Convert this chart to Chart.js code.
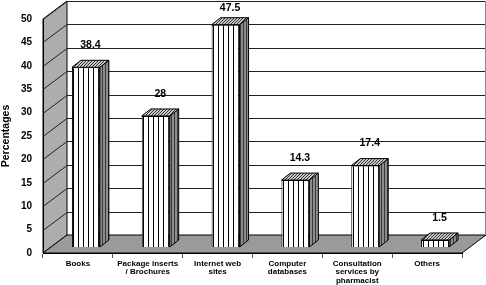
<!DOCTYPE html>
<html>
<head>
<meta charset="utf-8">
<script src="https://cdn.jsdelivr.net/npm/chart.js@4.4.0/dist/chart.umd.min.js"></script>
<style>
  html, body { margin: 0; padding: 0; background: #fff; }
  #wrap { width: 486px; height: 285px; }
</style>
</head>
<body>
<div id="wrap"><canvas id="chart_sources"></canvas></div>
<script>
// data
var categories = [
    ['Books'],
    ['Package inserts', '/ Brochures'],
    ['Internet web', 'sites'],
    ['Computer', 'databases'],
    ['Consultation', 'services by', 'pharmacist'],
    ['Others']
];
var percentages = [38.4, 28, 47.5, 14.3, 17.4, 1.5];
var yMin = 0, yMax = 50, yStep = 5;

// 3d look
var DEPTH_X = 24, DEPTH_Y = 18;      // floor depth
var BAR_POS = 1 / 3;                 // bars sit a third into the floor
var BAR_DX = 9, BAR_DY = 7;          // bar depth
var FONT = "'Liberation Sans', Arial, sans-serif";

function stripePattern(bg, fg, w, h, diagonal) {
    var c = document.createElement('canvas');
    c.width = w; c.height = h;
    var x = c.getContext('2d');
    x.fillStyle = bg;
    x.fillRect(0, 0, w, h);
    x.strokeStyle = fg;
    x.lineWidth = 1;
    x.beginPath();
    if (diagonal) {
        x.moveTo(0, h); x.lineTo(w, 0);
        x.moveTo(-1, 1); x.lineTo(1, -1);
        x.moveTo(w - 1, h + 1); x.lineTo(w + 1, h - 1);
    } else {
        x.moveTo(0.5, 0); x.lineTo(0.5, h);
    }
    x.stroke();
    return x.createPattern(c, 'repeat');
}

var frontFill = stripePattern('#ffffff', '#000000', 5, 4, false);
var sideFill = stripePattern('#8c8c8c', '#3a3a3a', 3, 4, false);
var topFill = stripePattern('#c8c8c8', '#333333', 3, 3, true);

function poly(ctx, pts, fill) {
    ctx.beginPath();
    ctx.moveTo(pts[0][0], pts[0][1]);
    for (var i = 1; i < pts.length; i++) ctx.lineTo(pts[i][0], pts[i][1]);
    ctx.closePath();
    if (fill) { ctx.fillStyle = fill; ctx.fill(); }
    ctx.stroke();
}

var wallsPlugin = {
    id: 'walls',
    beforeDraw: function (chart) {
        var ctx = chart.ctx, ca = chart.chartArea, y = chart.scales.y;
        ctx.save();
        ctx.fillStyle = '#fff';
        ctx.fillRect(0, 0, chart.width, chart.height);
        var fTop = y.getPixelForValue(yMax), fBot = y.getPixelForValue(yMin);
        var bl = ca.left + DEPTH_X, br = ca.right + DEPTH_X;
        var bTop = fTop - DEPTH_Y, bBot = fBot - DEPTH_Y;
        ctx.lineWidth = 1;
        ctx.strokeStyle = '#000';
        // back wall
        ctx.fillStyle = '#fff';
        ctx.fillRect(bl, bTop, br - bl, bBot - bTop);
        // side wall and floor
        poly(ctx, [[ca.left, fTop], [bl, bTop], [bl, bBot], [ca.left, fBot]], '#adadad');
        poly(ctx, [[ca.left, fBot], [bl, bBot], [br, bBot], [ca.right, fBot]], '#9a9a9a');
        // grid lines on back wall and side wall
        ctx.strokeStyle = '#222';
        for (var v = yMin + yStep; v <= yMax; v += yStep) {
            var py = Math.round(y.getPixelForValue(v)) + 0.5;
            ctx.beginPath();
            ctx.moveTo(bl, py - DEPTH_Y);
            ctx.lineTo(br, py - DEPTH_Y);
            ctx.moveTo(ca.left, py);
            ctx.lineTo(bl, py - DEPTH_Y);
            ctx.stroke();
        }
        ctx.strokeStyle = '#888';
        ctx.beginPath();
        ctx.moveTo(br - 0.5, bTop);
        ctx.lineTo(br - 0.5, bBot);
        ctx.stroke();
        ctx.restore();
    },
    beforeDatasetDraw: function (chart) {
        chart.ctx.save();
        chart.ctx.translate(Math.round(DEPTH_X * BAR_POS), -Math.round(DEPTH_Y * BAR_POS));
    },
    afterDatasetDraw: function (chart) {
        chart.ctx.restore();
    },
    afterDatasetsDraw: function (chart) {
        var ctx = chart.ctx;
        var sx = Math.round(DEPTH_X * BAR_POS), sy = -Math.round(DEPTH_Y * BAR_POS);
        var meta = chart.getDatasetMeta(0);
        ctx.save();
        ctx.lineWidth = 1;
        ctx.strokeStyle = '#000';
        meta.data.forEach(function (bar, i) {
            var p = bar.getProps(['x', 'y', 'base', 'width'], true);
            var l = p.x - p.width / 2 + sx, r = p.x + p.width / 2 + sx;
            var t = p.y + sy, b = p.base + sy;
            poly(ctx, [[r, t], [r + BAR_DX, t - BAR_DY], [r + BAR_DX, b - BAR_DY], [r, b]], sideFill);
            poly(ctx, [[l, t], [l + BAR_DX, t - BAR_DY], [r + BAR_DX, t - BAR_DY], [r, t]], topFill);
            ctx.fillStyle = '#000';
            ctx.font = 'bold 10.5px ' + FONT;
            ctx.textAlign = 'center';
            ctx.textBaseline = 'middle';
            var ly = Math.max(t - 22, 8);
            ctx.fillText(String(percentages[i]), (l + r) / 2 + BAR_DX / 2, ly);
        });
        ctx.restore();
    }
};

var chart_sources = new Chart(document.getElementById('chart_sources'), {
    type: 'bar',
    data: {
        labels: categories,
        datasets: [
            {
                label: 'Percentages',
                data: percentages,
                backgroundColor: frontFill,
                borderColor: '#000',
                borderWidth: 1,
                categoryPercentage: 1,
                barPercentage: 0.4,
                clip: false
            }
        ]
    },
    options: {
        animation: false,
        responsive: true,
        maintainAspectRatio: false,
        devicePixelRatio: 1,
        layout: {
            padding: { top: 19, right: 24, left: 0, bottom: 0 }
        },
        plugins: {
            legend: { display: false },
            tooltip: { enabled: false }
        },
        scales: {
            x: {
                afterFit: function (s) { s.height = 32; },
                grid: {
                    display: true,
                    drawOnChartArea: false,
                    drawTicks: true,
                    tickLength: 5,
                    color: '#555'
                },
                border: { display: true, color: '#000', width: 1 },
                ticks: {
                    color: '#000',
                    font: { family: FONT, size: 8, weight: 'bold', lineHeight: 1.1 },
                    padding: 1,
                    maxRotation: 0,
                    autoSkip: false
                }
            },
            y: {
                min: yMin,
                max: yMax,
                afterFit: function (s) { s.width = 43; },
                grid: { display: false, drawTicks: false },
                border: { display: true, color: '#000', width: 1 },
                ticks: {
                    stepSize: yStep,
                    color: '#000',
                    padding: 11,
                    font: { family: FONT, size: 10, weight: 'bold' }
                },
                title: {
                    display: true,
                    text: 'Percentages',
                    color: '#000',
                    padding: 0,
                    font: { family: FONT, size: 10.5, weight: 'bold' }
                }
            }
        }
    },
    plugins: [wallsPlugin]
});
</script>
</body>
</html>
